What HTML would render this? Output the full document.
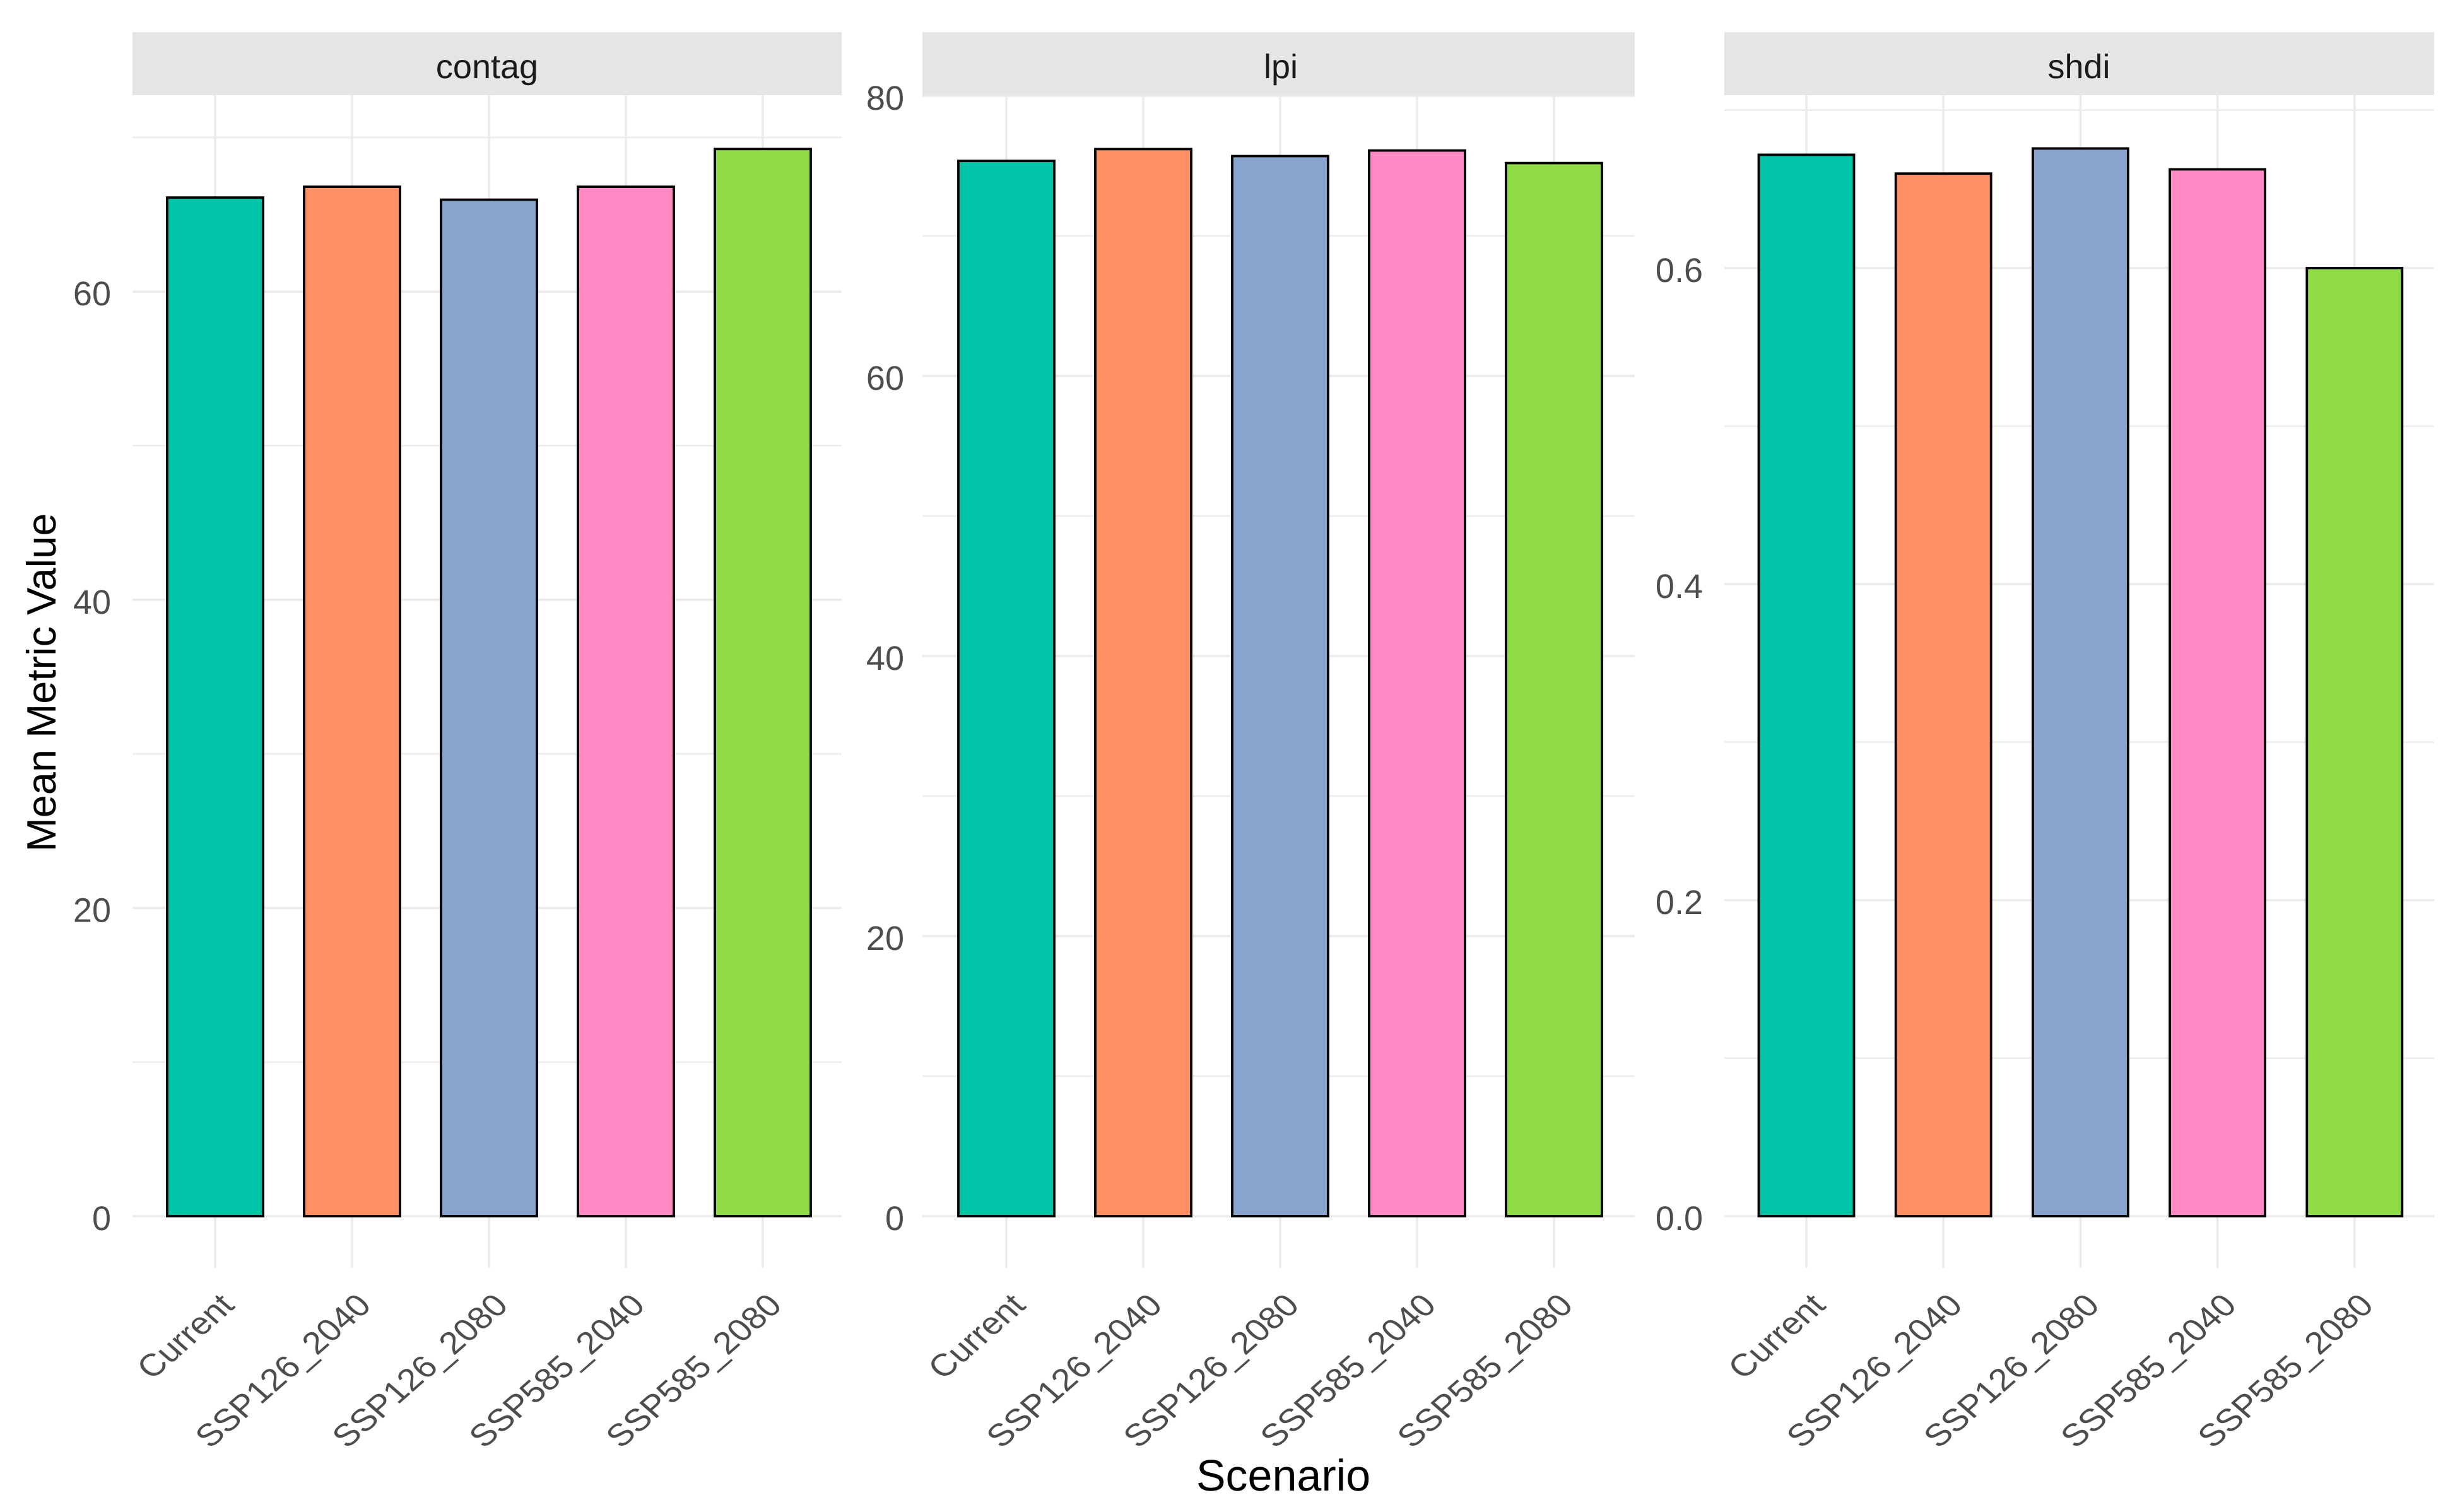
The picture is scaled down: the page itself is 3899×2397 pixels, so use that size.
<!DOCTYPE html>
<html lang="en">
<head>
<meta charset="utf-8">
<title>Mean Metric Value by Scenario</title>
<style>
html,body{margin:0;padding:0;background:#fff;width:3899px;height:2397px;overflow:hidden}
svg{display:block;font-family:"Liberation Sans",sans-serif;text-rendering:geometricPrecision}
</style>
</head>
<body>
<svg id="chart" xmlns="http://www.w3.org/2000/svg" width="3899" height="2397" viewBox="0 0 3899 2397"></svg>
<script>
const categories = ['Current', 'SSP126_2040', 'SSP126_2080', 'SSP585_2040', 'SSP585_2080'];
const barColors = ['#00C4A7', '#FF9064', '#88A3CE', '#FF8AC3', '#90DC46'];

const contagValues = [66.1, 66.8, 65.96, 66.8, 69.25];
const lpiValues = [75.36, 76.2, 75.7, 76.1, 75.2];
const shdiValues = [0.6717, 0.6598, 0.6757, 0.6625, 0.600];

const contagTicks = [0, 20, 40, 60];
const lpiTicks = [0, 20, 40, 60, 80];
const shdiTicks = [0, 0.2, 0.4, 0.6];
const shdiTickLabels = ['0.0', '0.2', '0.4', '0.6'];

const contagMinor = [10, 30, 50, 70];
const lpiMinor = [10, 30, 50, 70];
const shdiMinor = [0.1, 0.3, 0.5, 0.7];

const panels = [
  {key:'contag', values:contagValues, ticks:contagTicks, labels:contagTicks.map(String), minor:contagMinor,
   left:210, right:1334, first:341, step:217, barW:152, k:24.43, tickRight:176, title:772},
  {key:'lpi', values:lpiValues, ticks:lpiTicks, labels:lpiTicks.map(String), minor:lpiMinor,
   left:1462, right:2591, first:1595, step:217, barW:152, k:22.2, tickRight:1433, title:2030},
  {key:'shdi', values:shdiValues, ticks:shdiTicks, labels:shdiTickLabels, minor:shdiMinor,
   left:2733, right:3858, first:2863, step:217.2, barW:151, k:2505, tickRight:2699, title:3295}
];

const NS = 'http://www.w3.org/2000/svg';
const svg = document.getElementById('chart');
const baseY = 1928;
const panelBottom = 2010;
const stripTop = 51;
const stripBottom = 151;

function make(parent, tag, props, text) {
  const el = document.createElementNS(NS, tag);
  for (const p in props) el.setAttribute(p, props[p]);
  if (text !== undefined) el.textContent = text;
  parent.appendChild(el);
  return el;
}

panels.forEach(function (p) {
  const xScale = function (i) { return p.first + p.step * i; };
  const yScale = function (v) { return baseY - v * p.k; };

  const g = make(svg, 'g', {});
  
  

  p.minor.forEach(function (v) {
    const line = make(g, 'line', {x1:p.left, x2:p.right, y1:yScale(v), y2:yScale(v), stroke:'#eeeeee', 'stroke-width':3});
    
    
  });

  p.ticks.forEach(function (v, i) {
    const line = make(g, 'line', {x1:p.left, x2:p.right, y1:yScale(v), y2:yScale(v), stroke:'#ebebeb', 'stroke-width':3.5});
    
    
    const label = make(g, 'text', {x:p.tickRight, y:yScale(v) + 22, 'text-anchor':'end', 'font-size':54, fill:'#4d4d4d'}, p.labels[i]);
    
    
  });

  categories.forEach(function (c, i) {
    const line = make(g, 'line', {x1:xScale(i), x2:xScale(i), y1:stripBottom, y2:panelBottom, stroke:'#ebebeb', 'stroke-width':3.5});
    
    
  });

  const strip = make(g, 'rect', {x:p.left, y:stripTop, width:p.right - p.left, height:stripBottom - stripTop, fill:'#e5e5e5'});
  
  

  const stripLabel = make(g, 'text', {x:p.title, y:124, 'text-anchor':'middle', 'font-size':54, fill:'#1a1a1a'}, p.key);
  
  

  p.values.forEach(function (v, i) {
    const bar = make(g, 'rect', {
      x:xScale(i) - p.barW / 2, y:yScale(v), width:p.barW, height:baseY - yScale(v),
      fill:barColors[i], stroke:'#000', 'stroke-width':3.8
    });
    
    
  });

  categories.forEach(function (c, i) {
    const ax = xScale(i) + 33;
    const ay = 2072;
    const label = make(g, 'text', {
      x:0, y:0, 'text-anchor':'end', 'font-size':52, fill:'#4d4d4d',
      transform:'translate(' + ax + ' ' + ay + ') scale(1.087 0.952) rotate(-45)'
    }, c);
    
    
  });
});

const xTitle = make(svg, 'text', {x:2034, y:2363, 'text-anchor':'middle', 'font-size':70, fill:'#000'}, 'Scenario');



const yTitle = make(svg, 'text', {x:0, y:0, 'text-anchor':'middle', 'font-size':65, fill:'#000', transform:'translate(88 1082) rotate(-90)'}, 'Mean Metric Value');


</script>
</body>
</html>
